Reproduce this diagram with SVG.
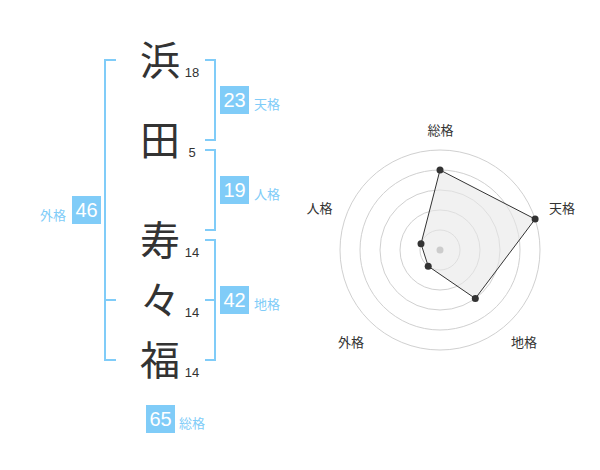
<svg xmlns="http://www.w3.org/2000/svg" width="600" height="470" viewBox="0 0 600 470">
<style>
.bg{fill:#ffffff}
.kanji{font-family:"Noto Sans CJK JP","Noto Sans CJK SC",sans-serif;font-size:40px;fill:#333333;text-anchor:middle}
.num{font-family:"Liberation Sans",Arial,sans-serif;font-size:13px;fill:#333333;text-anchor:middle}
.br{fill:none;stroke:#80ccf8;stroke-width:2}
.box{fill:#80ccf8}
.boxnum{font-family:"Liberation Sans",Arial,sans-serif;font-size:20px;fill:#ffffff;text-anchor:middle}
.lbl{font-family:"Noto Sans CJK JP","Noto Sans CJK SC",sans-serif;font-size:13px;fill:#80ccf8}
.ring{fill:none;stroke:#d0d0d0;stroke-width:1}
.rlbl{font-family:"Noto Sans CJK JP","Noto Sans CJK SC",sans-serif;font-size:13px;fill:#333333;text-anchor:middle}
.pt{fill:#333333}
</style>
<rect class="bg" x="0" y="0" width="600" height="470"/>
<g id="names">
  <g id="char-hama"><text class="kanji" x="160" y="75">浜</text><text class="num" x="192" y="77">18</text></g>
  <g id="char-da"><text class="kanji" x="160" y="155">田</text><text class="num" x="192" y="157">5</text></g>
  <g id="char-ju"><text class="kanji" x="160" y="255">寿</text><text class="num" x="192" y="257">14</text></g>
  <g id="char-noma"><text class="kanji" x="160" y="315">々</text><text class="num" x="192" y="317">14</text></g>
  <g id="char-fuku"><text class="kanji" x="160" y="375">福</text><text class="num" x="192" y="377">14</text></g>
</g>
<g id="connectors">
  <path class="br" d="M116,60 H105 V360 H116 M105,300 H116"/>
  <path class="br" d="M205,60 H215 V140 H205"/>
  <path class="br" d="M205,150 H215 V230 H205"/>
  <path class="br" d="M205,240 H215 V360 H205 M205,300 H215"/>
</g>
<g id="tenkaku"><rect class="box" x="220" y="86" width="29" height="28"/><text class="boxnum" x="234.5" y="107">23</text><text class="lbl" x="254" y="108.5">天格</text></g>
<g id="jinkaku"><rect class="box" x="220" y="176" width="29" height="28"/><text class="boxnum" x="234.5" y="197">19</text><text class="lbl" x="254" y="198.5">人格</text></g>
<g id="chikaku"><rect class="box" x="220" y="286" width="29" height="28"/><text class="boxnum" x="234.5" y="307">42</text><text class="lbl" x="254" y="308.5">地格</text></g>
<g id="gaikaku"><rect class="box" x="72" y="196" width="29" height="28"/><text class="boxnum" x="86.5" y="217">46</text><text class="lbl" x="66" y="219.5" text-anchor="end">外格</text></g>
<g id="soukaku"><rect class="box" x="146" y="405" width="29" height="28"/><text class="boxnum" x="160.5" y="426">65</text><text class="lbl" x="179" y="428">総格</text></g>
<g id="radar">
  <circle class="ring" cx="440" cy="250" r="20"/>
  <circle class="ring" cx="440" cy="250" r="40"/>
  <circle class="ring" cx="440" cy="250" r="60"/>
  <circle class="ring" cx="440" cy="250" r="80"/>
  <circle class="ring" cx="440" cy="250" r="100"/>
  <polygon points="440,170 535.1,219.1 475.3,298.5 428.2,266.2 421,243.8" fill="#e8e8e8" fill-opacity="0.6" stroke="#333333" stroke-width="1"/>
  <circle cx="440" cy="250" r="3.5" fill="#cccccc"/>
  <circle class="pt" cx="440" cy="170" r="3.5"/>
  <circle class="pt" cx="535.1" cy="219.1" r="3.5"/>
  <circle class="pt" cx="475.3" cy="298.5" r="3.5"/>
  <circle class="pt" cx="428.2" cy="266.2" r="3.5"/>
  <circle class="pt" cx="421" cy="243.8" r="3.5"/>
  <text class="rlbl" x="440.5" y="135">総格</text>
  <text class="rlbl" x="562" y="213">天格</text>
  <text class="rlbl" x="319.5" y="213">人格</text>
  <text class="rlbl" x="351" y="347">外格</text>
  <text class="rlbl" x="524" y="347">地格</text>
</g>
</svg>
